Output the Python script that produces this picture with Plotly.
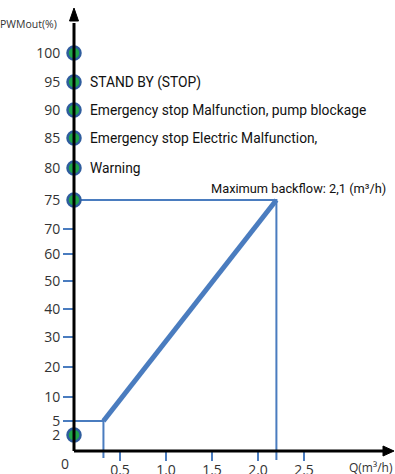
import numpy as np
import plotly.graph_objects as go

# ---- data ----
Y_TICKS = [100, 95, 90, 85, 80, 75, 70, 60, 50, 40, 30, 20, 10, 5, 2]
MARKER_LEVELS = [100, 95, 90, 85, 80, 75, 2]
TICK_LEVELS = [70, 60, 50, 40, 30, 20, 10, 5]
STATUS_LEVELS = [95, 90, 85, 80]
STATUS_TEXT = ["STAND BY (STOP)",
               "Emergency stop Malfunction, pump blockage",
               "Emergency stop Electric Malfunction,",
               "Warning"]
X_TICKS = [0.5, 1.0, 1.5, 2.0, 2.5]
X_TICK_TEXT = ["0.5", "1.0", "1.5", "2.0", "2.5"]
Q_MIN, PWM_MIN = 0.32, 5
Q_MAX, PWM_MAX = 2.2, 75
MAX_LABEL = "Maximum backflow: 2,1 (m³/h)"

# ---- non-linear y-axis scale (as drawn in the original) ----
SCALE_VALUES = [0, 2, 5, 10, 20, 30, 40, 50, 60, 70, 75, 80, 85, 90, 95, 100]
SCALE_POS = [0, 16, 30, 54, 84, 114, 142, 170, 197, 222, 251, 283, 313, 341, 369, 398]


def ys(v):
    return np.interp(v, SCALE_VALUES, SCALE_POS)


W, H = 395, 474
PX = 92.0          # pixels per unit of Q
X0, Y0 = 74, 451   # pixel location of origin
xr = [-X0 / PX, (W - X0) / PX]
yr = [-(H - Y0), Y0]

BLUE = "#4a7cbf"
fig = go.Figure()

# blue y tick marks
tx, ty = [], []
for v in TICK_LEVELS:
    tx += [-11 / PX, 0, None]
    ty += [ys(v), ys(v), None]
fig.add_trace(go.Scatter(x=tx, y=ty, mode="lines", line=dict(color=BLUE, width=2),
                         hoverinfo="skip", showlegend=False))

# blue x tick marks
qx, qy = [], []
for q in X_TICKS:
    qx += [q, q, None]
    qy += [0, -10, None]
fig.add_trace(go.Scatter(x=qx, y=qy, mode="lines", line=dict(color=BLUE, width=2),
                         hoverinfo="skip", showlegend=False))

# guide lines
fig.add_trace(go.Scatter(x=[0, Q_MAX, Q_MAX], y=[ys(PWM_MAX), ys(PWM_MAX), -9],
                         mode="lines", line=dict(color=BLUE, width=2),
                         hoverinfo="skip", showlegend=False))
fig.add_trace(go.Scatter(x=[-11 / PX, Q_MIN, Q_MIN], y=[ys(PWM_MIN), ys(PWM_MIN), -7],
                         mode="lines", line=dict(color=BLUE, width=2),
                         hoverinfo="skip", showlegend=False))

# main characteristic line
fig.add_trace(go.Scatter(x=[Q_MIN, Q_MAX], y=[ys(PWM_MIN), ys(PWM_MAX)],
                         mode="lines", line=dict(color=BLUE, width=5),
                         hoverinfo="skip", showlegend=False))

# axes (black with arrows)
fig.add_shape(type="line", x0=0, x1=0, y0=0, y1=ys(100) + 30, xref="x", yref="y",
              line=dict(color="black", width=3))
fig.add_shape(type="line", x0=0, x1=xr[1] - 10 / PX, y0=0, y1=0, xref="x", yref="y",
              line=dict(color="black", width=3))
top = Y0 - 8
fig.add_shape(type="path", xref="x", yref="y",
              path=f"M {-4.5 / PX} {top - 13} L 0 {top} L {4.5 / PX} {top - 13} Z",
              fillcolor="black", line=dict(color="black", width=1))
fig.add_shape(type="path", xref="x", yref="y",
              path=f"M {xr[1] - 12 / PX} 5 L {xr[1] - 1 / PX} 0 L {xr[1] - 12 / PX} -5 Z",
              fillcolor="black", line=dict(color="black", width=1))

# markers
fig.add_trace(go.Scatter(x=[0] * len(MARKER_LEVELS), y=ys(MARKER_LEVELS), mode="markers",
                         marker=dict(size=13, color="#1fa64a",
                                     line=dict(color="#2f5d9e", width=2.5)),
                         hoverinfo="skip", showlegend=False, cliponaxis=False))

# status texts
for lv, t in zip(STATUS_LEVELS, STATUS_TEXT):
    fig.add_annotation(x=0, y=ys(lv), text=t, showarrow=False, xanchor="left",
                       xshift=14, font=dict(family="Roboto", size=13.8, color="#111"))

fig.add_annotation(x=Q_MAX, y=ys(PWM_MAX), text=MAX_LABEL, showarrow=False,
                   xanchor="center", xshift=22, yshift=12,
                   font=dict(family="Roboto", size=12.8, color="#111"))

fig.add_annotation(x=0, y=0, text="0", showarrow=False, xanchor="center",
                   xshift=-9, yshift=-12,
                   font=dict(family="Open Sans", size=14, color="#333"))
fig.add_annotation(xref="paper", yref="paper", x=0, y=1 - 24 / H, text="PWMout(%)",
                   showarrow=False, xanchor="left", yanchor="middle", xshift=-2,
                   font=dict(family="Open Sans", size=10.5, color="#333"))
fig.add_annotation(xref="paper", yref="paper", x=1, y=(H - 467) / H, text="Q(m³/h)",
                   showarrow=False, xanchor="right", yanchor="middle",
                   font=dict(family="Open Sans", size=12, color="#333"))

fig.update_layout(
    width=W, height=H, margin=dict(l=0, r=0, t=0, b=0, autoexpand=False),
    paper_bgcolor="white", plot_bgcolor="white", showlegend=False,
    xaxis=dict(range=xr, showgrid=False, zeroline=False, showline=False,
               anchor="free", position=(H - Y0) / H, automargin=False,
               tickvals=X_TICKS, ticktext=X_TICK_TEXT, ticks="",
               ticklabelstandoff=9,
               tickfont=dict(family="Open Sans", size=14, color="#333")),
    yaxis=dict(range=yr, showgrid=False, zeroline=False, showline=False,
               anchor="free", position=X0 / W, automargin=False,
               tickvals=list(ys(Y_TICKS)), ticktext=[str(v) for v in Y_TICKS],
               ticks="outside", ticklen=8, tickcolor="rgba(0,0,0,0)",
               ticklabelstandoff=3,
               tickfont=dict(family="Open Sans", size=14, color="#333")),
)

PAGE_FIX = """
document.body.style.margin='0';
document.documentElement.style.overflow='hidden';
"""

fig.write_html("out.html", config={"displayModeBar": False}, post_script=PAGE_FIX)
